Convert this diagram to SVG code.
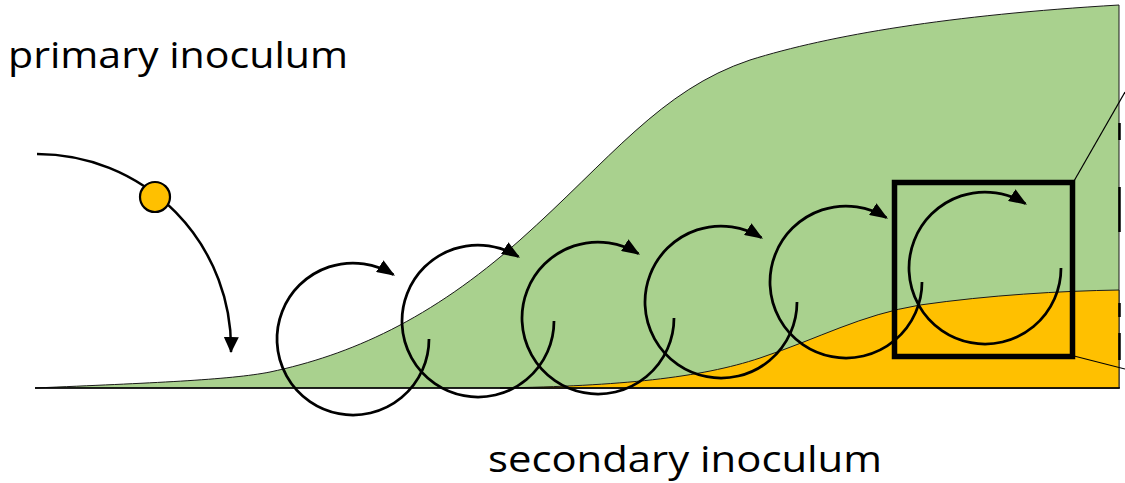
<svg xmlns="http://www.w3.org/2000/svg" width="1125" height="483" viewBox="0 0 1125 483">
  <style>
    .lbl { font-family: "Open Sans", "Noto Sans", "Liberation Sans", sans-serif; font-size: 36px; fill: #000; }
    .area { stroke: #1a1a1a; stroke-width: 1; stroke-linejoin: round; }
    .cyc { fill: none; stroke: #000; stroke-width: 2.75; marker-end: url(#ah); }
    .thin { stroke: #000; stroke-width: 1.2; fill: none; }
  </style>
  <defs>
    <marker id="ah" markerUnits="userSpaceOnUse" markerWidth="18" markerHeight="14" viewBox="0 0 18 14" refX="16" refY="7" orient="auto">
      <path d="M0,0 L18,7 L0,14 Z" fill="#000"/>
    </marker>
  </defs>
  <rect width="1125" height="483" fill="#fff"/>

  <g id="disease-curve">
    <path class="area" fill="#A9D18E" d="M35,388 C150,383 230,380 270,372 C350,355 430,320 520,240 C610,160 660,90 750,60 C830,35 950,15 1119,5 L1119,388 Z"/>
  </g>
  <g id="secondary-curve">
    <path class="area" fill="#FFC000" d="M500,388 C620,386 700,378 760,358 C820,338 860,315 920,305 C990,295 1060,291 1119,290 L1119,388 Z"/>
  </g>
  <g id="axis">
    <line x1="35" y1="388" x2="1120" y2="388" stroke="#000" stroke-width="1.6"/>
    <path d="M1119.5,123 V140 M1119.5,187 V232 M1119.5,303 V317 M1119.5,333 V360" stroke="#000" stroke-width="2.5"/>
  </g>

  <g id="zoom-box">
    <rect x="894.5" y="182.5" width="178" height="174" fill="none" stroke="#000" stroke-width="5.5"/>
    <line class="thin" x1="1074" y1="181" x2="1125" y2="92"/>
    <line class="thin" x1="1074" y1="356" x2="1125" y2="369"/>
  </g>

  <g id="connectors">
    <path d="M37,154 A194,194 0 0 1 231,352" fill="none" stroke="#000" stroke-width="2.5" marker-end="url(#ah2)"/>
    <path class="cyc" d="M429,339 A76,76 0 1 1 393.3,274.6"/>
    <path class="cyc" d="M554,321 A76,76 0 1 1 518.3,256.6"/>
    <path class="cyc" d="M674,318 A76,76 0 1 1 638.3,253.6"/>
    <path class="cyc" d="M797,302 A76,76 0 1 1 761.3,237.6"/>
    <path class="cyc" d="M922,282 A76,76 0 1 1 886.3,217.6"/>
    <path class="cyc" d="M1061,268 A76,76 0 1 1 1025.3,203.6"/>
  </g>
  <defs>
    <marker id="ah2" markerUnits="userSpaceOnUse" markerWidth="16" markerHeight="15" viewBox="0 0 16 15" refX="15" refY="7.5" orient="auto">
      <path d="M0,0 L16,7.5 L0,15 Z" fill="#000"/>
    </marker>
  </defs>

  <g id="primary-spore">
    <circle cx="155" cy="197" r="15" fill="#FFC000" stroke="#000" stroke-width="2.2"/>
  </g>

  <g id="label-primary">
    <text class="lbl" x="8" y="68" textLength="340" lengthAdjust="spacingAndGlyphs">primary inoculum</text>
  </g>
  <g id="label-secondary">
    <text class="lbl" x="488" y="472" textLength="394" lengthAdjust="spacingAndGlyphs">secondary inoculum</text>
  </g>
</svg>
